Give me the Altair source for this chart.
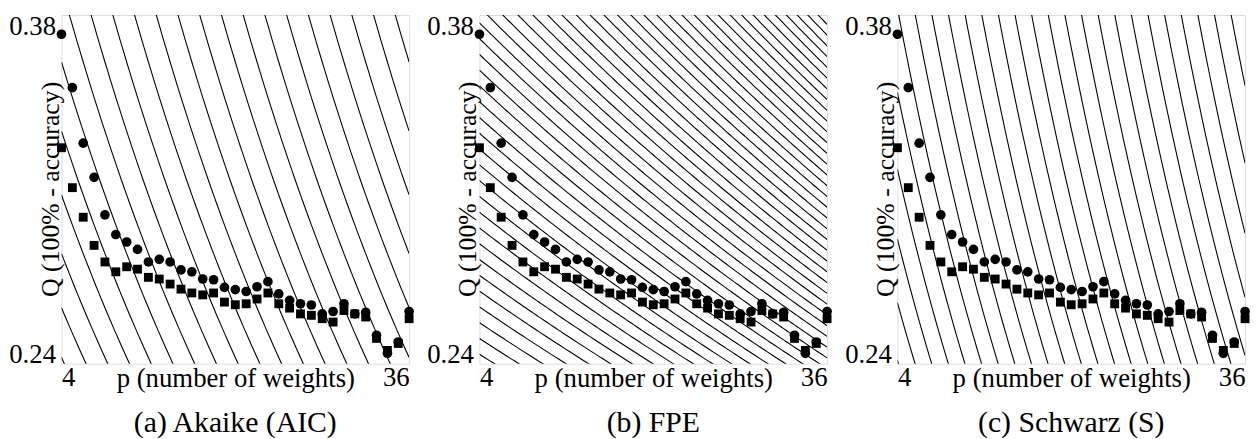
import altair as alt
import numpy as np
import pandas as pd

alt.data_transformers.disable_max_rows()

# ---- data ----
P = list(range(4, 37))
CIRCLES = [0.3770, 0.3548, 0.3317, 0.3175, 0.3019, 0.2937, 0.2906, 0.2875,
           0.2823, 0.2834, 0.2823, 0.2790, 0.2782, 0.2752, 0.2749, 0.2717,
           0.2708, 0.2700, 0.2720, 0.2741, 0.2690, 0.2663, 0.2649, 0.2644,
           0.2607, 0.2617, 0.2649, 0.2607, 0.2614, 0.2518, 0.2443, 0.2490,
           0.2617]
SQUARES = [0.3298, 0.3132, 0.3009, 0.2892, 0.2823, 0.2782, 0.2803, 0.2793,
           0.2759, 0.2752, 0.2731, 0.2710, 0.2694, 0.2686, 0.2694, 0.2656,
           0.2645, 0.2649, 0.2669, 0.2694, 0.2649, 0.2631, 0.2607, 0.2601,
           0.2587, 0.2573, 0.2621, 0.2607, 0.2594, 0.2505, 0.2455, 0.2484,
           0.2587]

PANEL_TITLES = ["(a) Akaike (AIC)", "(b) FPE", "(c) Schwarz (S)"]
X_TITLE = "p (number of weights)"
Y_TITLE = "Q (100% - accuracy)"
X_TICKS = [4, 36]
Y_TICKS = [0.24, 0.38]
Y_DOMAIN = [0.24, 0.385]
X_DOMAIN = [4, 36]

# iso-criterion contour families
# (a), (c): criterion additive in ln Q  -> curves Q = C*exp(-k p), shifted by dp
CONTOUR_K = {0: 0.041, 2: 0.062}
CONTOUR_DP = {0: 2.0, 2: 1.53}
CONTOUR_S0 = {0: 4.73, 2: 4.12}
# (b): FPE = Q (n+p)/(n-p) taken at evenly spaced levels
FPE_N = 170
FPE_STEP = 0.00688
FPE_C0 = 0.385 * (FPE_N + 4.73) / (FPE_N - 4.73)

FONT = "Liberation Serif, Times New Roman, serif"


def contour_frame(i):
    q_top, q_bot = Y_DOMAIN[1], Y_DOMAIN[0]
    pgrid = np.linspace(X_DOMAIN[0], X_DOMAIN[1], 129)
    rows = []
    if i in CONTOUR_K:
        k, dp, s0 = CONTOUR_K[i], CONTOUR_DP[i], CONTOUR_S0[i]
        smin = X_DOMAIN[0] - np.log(q_top / q_bot) / k
        j_min = int(np.floor((smin - s0) / dp)) - 1
        j_max = int(np.ceil((X_DOMAIN[1] - s0) / dp)) + 1
        for j in range(j_min, j_max + 1):
            q = q_top * np.exp(-k * (pgrid - (s0 + j * dp)))
            rows += [(j, float(a), float(b)) for a, b in zip(pgrid, q) if 0.2 <= b <= 0.45]
    else:
        g = (FPE_N - pgrid) / (FPE_N + pgrid)
        cmin = q_bot / g[0]
        cmax = q_top / g[-1]
        j_min = int(np.floor((cmin - FPE_C0) / FPE_STEP)) - 1
        j_max = int(np.ceil((cmax - FPE_C0) / FPE_STEP)) + 1
        for j in range(j_min, j_max + 1):
            q = (FPE_C0 + j * FPE_STEP) * g
            rows += [(j, float(a), float(b)) for a, b in zip(pgrid, q) if 0.2 <= b <= 0.45]
    return pd.DataFrame(rows, columns=["line", "p", "Q"])


pts_c = pd.DataFrame({"p": P, "Q": CIRCLES})
pts_s = pd.DataFrame({"p": P, "Q": SQUARES})
ytitle_df = pd.DataFrame({"t": [Y_TITLE]})

xs = alt.Scale(domain=X_DOMAIN, nice=False, zero=False)
ys = alt.Scale(domain=Y_DOMAIN, nice=False, zero=False)

x_axis = alt.Axis(values=X_TICKS, title=X_TITLE, labelFlush=True,
                  ticks=False, tickSize=0, domain=False, grid=False,
                  labelPadding=1, labelFontSize=27, labelFont=FONT, labelColor="black",
                  titleFontSize=27, titleFont=FONT, titleFontWeight="normal",
                  titleColor="black", titleY=23, titleBaseline="alphabetic")
y_axis = alt.Axis(values=Y_TICKS, format=".2f", title=None,
                  labelFlush=True, labelFlushOffset=5, ticks=False, tickSize=0,
                  domain=False, grid=False, labelPadding=6, labelFontSize=27,
                  labelFont=FONT, labelColor="black")

W, H = 351, 352


def panel(i):
    cf = contour_frame(i)
    xe = alt.X("p:Q", scale=xs, axis=x_axis)
    ye = alt.Y("Q:Q", scale=ys, axis=y_axis)
    lines = alt.Chart(cf).mark_line(clip=True, color="black", strokeWidth=1.1).encode(
        x=xe, y=ye, detail="line:N")
    sq = alt.Chart(pts_s).mark_square(size=80, color="black", opacity=1).encode(x=xe, y=ye)
    ci = alt.Chart(pts_c).mark_circle(size=95, color="black", opacity=1).encode(x=xe, y=ye)
    yt = alt.Chart(ytitle_df).mark_text(angle=270, font=FONT, fontSize=26, align="center",
                                         baseline="middle", color="black").encode(
        text="t:N", x=alt.value(-11), y=alt.value(H / 2))
    return alt.layer(lines, sq, ci, yt).properties(
        width=W, height=H,
        title=alt.TitleParams(PANEL_TITLES[i], orient="bottom", fontSize=30, font=FONT,
                              fontWeight="normal", color="black", offset=17,
                              anchor="middle"))


chart = alt.hconcat(panel(0), panel(1), panel(2), spacing=71, bounds="flush").properties(
    padding={"left": 0, "top": 2, "right": 0, "bottom": 0}
).configure_view(stroke="#808080", strokeWidth=1).configure(background="white")

chart.save("out.html", embed_options={"renderer": "svg", "actions": False})
